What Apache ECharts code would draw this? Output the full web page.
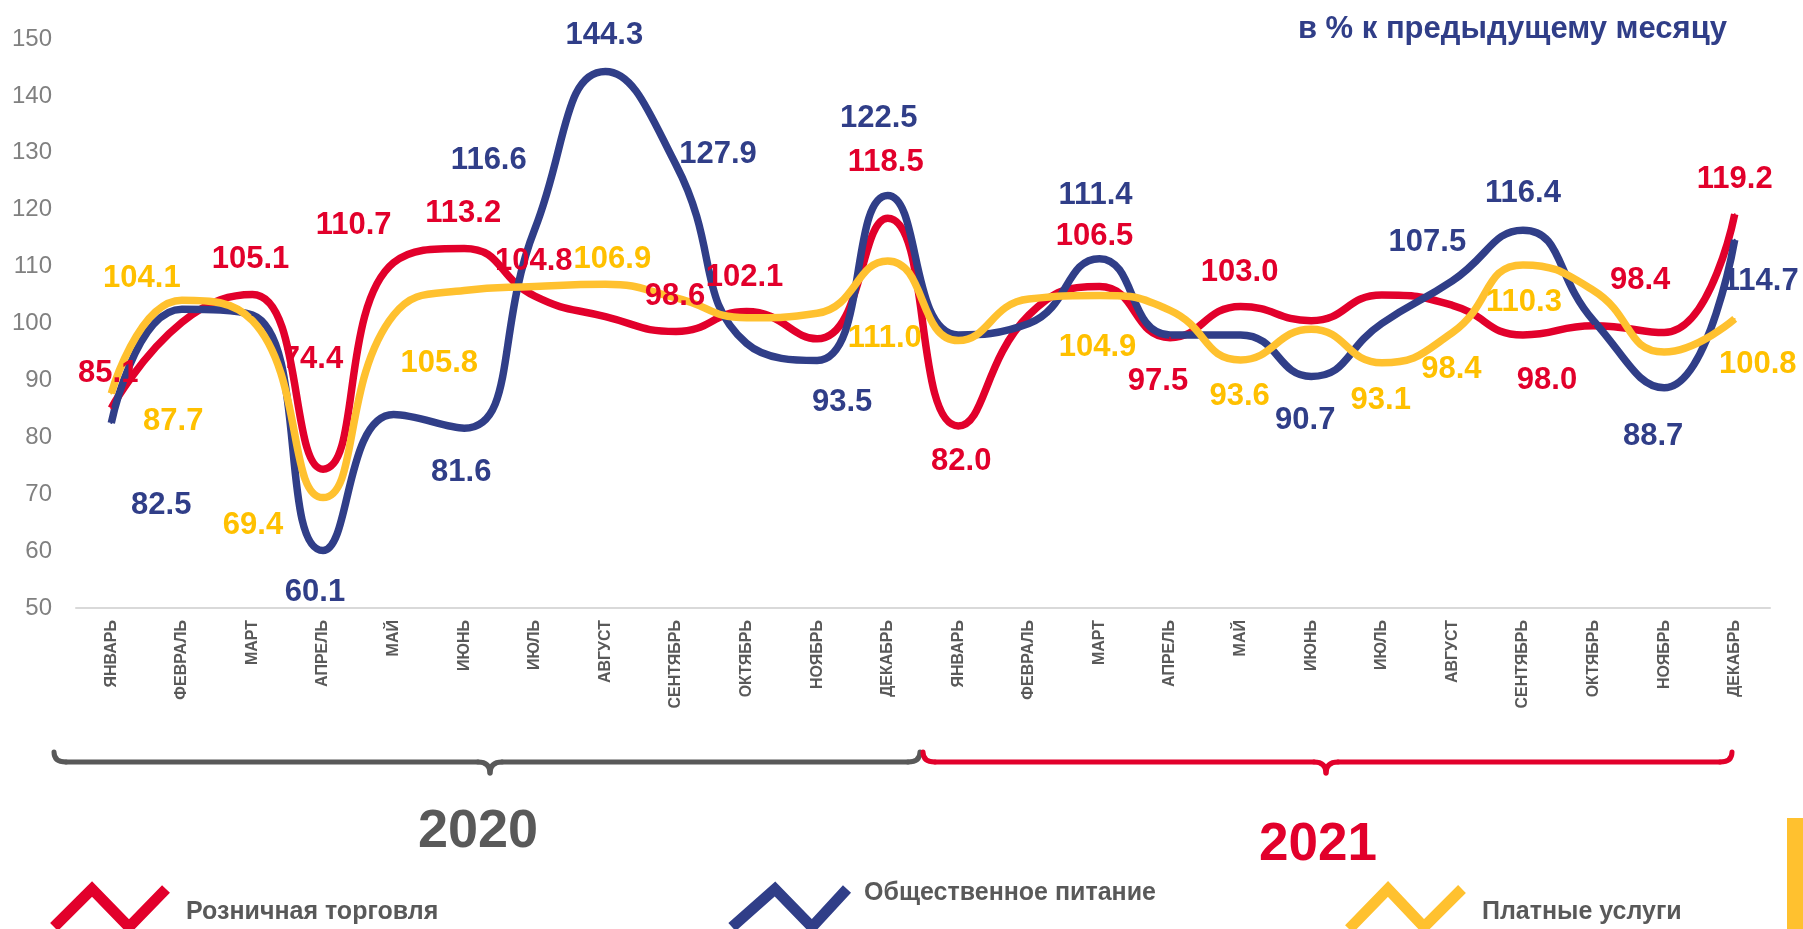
<!DOCTYPE html>
<html>
<head>
<meta charset="utf-8">
<script src="https://cdn.jsdelivr.net/npm/echarts@6/dist/echarts.min.js"></script>
<style>
  html, body { margin: 0; padding: 0; background: #fff; }
  #chart { width: 1803px; height: 929px; }
</style>
</head>
<body>
<div id="chart"></div>
<script>
// месяцы 2020 и 2021
var months = ['ЯНВАРЬ','ФЕВРАЛЬ','МАРТ','АПРЕЛЬ','МАЙ','ИЮНЬ','ИЮЛЬ','АВГУСТ','СЕНТЯБРЬ','ОКТЯБРЬ','НОЯБРЬ','ДЕКАБРЬ',
              'ЯНВАРЬ','ФЕВРАЛЬ','МАРТ','АПРЕЛЬ','МАЙ','ИЮНЬ','ИЮЛЬ','АВГУСТ','СЕНТЯБРЬ','ОКТЯБРЬ','НОЯБРЬ','ДЕКАБРЬ'];

// в % к предыдущему месяцу
var retail   = [85.1, 100.2, 105.1, 74.4, 110.7, 113.2, 104.8, 101.2, 98.6, 102.1, 97.3, 118.5,
                82.0, 101.5, 106.5, 97.5, 103.0, 100.5, 105.0, 103.2, 98.0, 99.6, 98.4, 119.2];
var catering = [82.5, 102.5, 101.5, 60.1, 84.0, 81.6, 116.6, 144.3, 127.9, 96.5, 93.5, 122.5,
                98.0, 100.0, 111.4, 98.0, 98.0, 90.7, 100.0, 107.5, 116.4, 100.5, 88.7, 114.7];
var services = [87.7, 104.1, 100.5, 69.4, 101.5, 105.8, 106.5, 106.9, 104.5, 101.0, 101.8, 111.0,
                97.0, 104.3, 104.9, 102.3, 93.6, 99.0, 93.1, 98.4, 110.3, 105.8, 95.0, 100.8];

var yTicks = [50, 150, 10]; // min, max, шаг

// подписи: индекс точки -> сдвиг подписи от точки (px)
var retailLabels   = {0:[-3,-35], 2:[-2,-35], 3:[-10,-110], 4:[-40,-37], 5:[-1,-35], 6:[-1,-35], 8:[-1,-35], 9:[-2,-34],
                      11:[-2,-56], 12:[3,36], 14:[-5,-50], 15:[-12,44], 16:[-1,-34], 20:[24,46], 22:[-24,-52], 23:[0,-35]};
var cateringLabels = {0:[50,82], 3:[-8,42], 5:[-3,44], 6:[-46,-69], 7:[-1,-36], 8:[42,-10], 10:[25,42], 11:[-9,-77],
                      14:[-4,-63], 17:[-6,44], 19:[-25,-38], 20:[0,-37], 22:[-11,49], 23:[26,42]};
var servicesLabels = {0:[62,28], 1:[-40,-22], 3:[-70,28], 5:[-25,73], 7:[7,-25], 11:[-3,78], 14:[-2,52],
                      16:[-1,37], 18:[-1,38], 19:[-1,37], 20:[1,38], 23:[23,46]};

var RED = '#E2002B', NAVY = '#303E88', YELLOW = '#FFC12F', YELLOW_TXT = '#FFC000', GREY = '#595959';
var FONT = '"Liberation Sans", Arial, sans-serif';

function buildData(values, labels) {
    return values.map(function (v, i) {
        var item = {value: v};
        if (labels[i]) {
            item.label = {show: true, offset: labels[i]};
        }
        return item;
    });
}

function makeSeries(name, values, labels, lineColor, textColor) {
    return {
        name: name,
        type: 'line',
        smooth: 0.5,
        symbol: 'circle',
        symbolSize: 2,
        itemStyle: {color: lineColor},
        lineStyle: {color: lineColor, width: 7.5},
        label: {
            show: false,
            position: 'inside',
            color: textColor,
            fontFamily: FONT,
            fontWeight: 'bold',
            fontSize: 31,
            formatter: function (p) { return p.value.toFixed(1); }
        },
        data: buildData(values, labels)
    };
}

// фигурная скобка: x1..x2, середина xm
function brace(x1, x2, xm, color) {
    var yTop = 752, yLine = 762, yTip = 773, r = 12;
    var st = {stroke: color, lineWidth: 5, fill: null, lineCap: 'round'};
    var bc = function (ax, ay, cx, cy, bx, by) {
        return {type: 'bezierCurve', shape: {x1: ax, y1: ay, cpx1: cx, cpy1: cy, x2: bx, y2: by}, style: st};
    };
    var ln = function (ax, bx) {
        return {type: 'line', shape: {x1: ax, y1: yLine, x2: bx, y2: yLine}, style: st};
    };
    return [
        bc(x1, yTop, x1, yLine, x1 + r, yLine),
        ln(x1 + r, xm - r),
        bc(xm - r, yLine, xm, yLine, xm, yTip),
        bc(xm, yTip, xm, yLine, xm + r, yLine),
        ln(xm + r, x2 - r),
        bc(x2 - r, yLine, x2, yLine, x2, yTop)
    ];
}

var chart = echarts.init(document.getElementById('chart'));

var graphics = []
    .concat(brace(54, 920, 490, GREY))
    .concat(brace(923, 1732, 1326, RED))
    .concat([
        {type: 'text', x: 478, y: 832, style: {text: '2020', fill: GREY, font: 'bold 54px ' + FONT, textAlign: 'center', textVerticalAlign: 'middle'}},
        {type: 'text', x: 1318, y: 845, style: {text: '2021', fill: RED, font: 'bold 53px ' + FONT, textAlign: 'center', textVerticalAlign: 'middle'}},
        // легенда
        {type: 'polyline', shape: {points: [[54, 927], [92, 889], [129, 927], [166, 889]]}, style: {stroke: RED, lineWidth: 11, fill: null}},
        {type: 'text', x: 186, y: 912, style: {text: 'Розничная торговля', fill: GREY, font: 'bold 25px ' + FONT, textVerticalAlign: 'middle'}},
        {type: 'polyline', shape: {points: [[732, 927], [775, 889], [812, 927], [847, 889]]}, style: {stroke: NAVY, lineWidth: 11, fill: null}},
        {type: 'text', x: 864, y: 893, style: {text: 'Общественное питание', fill: GREY, font: 'bold 25px ' + FONT, textVerticalAlign: 'middle'}},
        {type: 'polyline', shape: {points: [[1349, 929], [1388, 889], [1424, 927], [1462, 889]]}, style: {stroke: YELLOW, lineWidth: 11, fill: null}},
        {type: 'text', x: 1482, y: 912, style: {text: 'Платные услуги', fill: GREY, font: 'bold 25px ' + FONT, textVerticalAlign: 'middle'}},
        {type: 'rect', shape: {x: 1787, y: 818, width: 16, height: 111}, style: {fill: YELLOW}}
    ]);

var option = {
    animation: false,
    title: {
        text: 'в % к предыдущему месяцу',
        right: 71,
        top: 9,
        textStyle: {color: NAVY, fontFamily: FONT, fontWeight: 'bold', fontSize: 31}
    },
    grid: {left: 76, right: 33, top: 39, bottom: 321},
    xAxis: {
        type: 'category',
        data: months,
        boundaryGap: true,
        axisLine: {lineStyle: {color: '#D9D9D9', width: 2}},
        axisTick: {show: false},
        axisLabel: {
            interval: 0,
            rotate: 90,
            margin: 12,
            color: GREY,
            fontFamily: FONT,
            fontWeight: 'bold',
            fontSize: 16
        }
    },
    yAxis: {
        type: 'value',
        min: yTicks[0],
        max: yTicks[1],
        interval: yTicks[2],
        axisLine: {show: false},
        axisTick: {show: false},
        splitLine: {show: false},
        axisLabel: {color: '#808080', fontFamily: FONT, fontSize: 24, margin: 24}
    },
    series: [
        makeSeries('Розничная торговля', retail, retailLabels, RED, RED),
        makeSeries('Общественное питание', catering, cateringLabels, NAVY, NAVY),
        makeSeries('Платные услуги', services, servicesLabels, YELLOW, YELLOW_TXT)
    ],
    graphic: graphics
};

chart.setOption(option);
</script>
</body>
</html>
